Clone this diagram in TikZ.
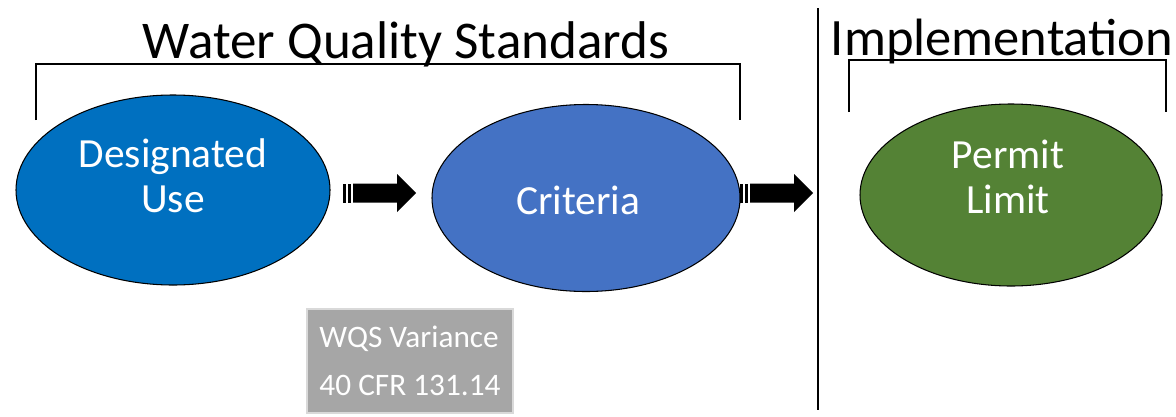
\documentclass[tikz,border=0pt]{standalone}
\usepackage{fontspec}
\setmainfont{Carlito}
\usetikzlibrary{shapes.geometric,positioning,calc}

\definecolor{useblue}{HTML}{0070C0}
\definecolor{critblue}{HTML}{4472C4}
\definecolor{permitgreen}{HTML}{548235}
\definecolor{boxgray}{HTML}{A6A6A6}
\definecolor{boxedge}{HTML}{D9D9D9}

\newdimen\pxu \pxu=0.02cm

\tikzset{
  oval/.style={ellipse, draw=black, line width=0.6pt, inner sep=0pt},
  ovaltext/.style={text=white, align=center, font=\fontsize{23.6}{25.5}\selectfont},
  bracket/.style={line width=1.1pt},
  stripearrow/.pic={
    \fill (0,-9.5) rectangle (3,9.5);
    \fill (5,-9.5) rectangle (8,9.5);
    \fill (10,-9.5) -- (54,-9.5) -- (54,-19) -- (73,0) -- (54,19) -- (54,9.5) -- (10,9.5) -- cycle;
  }
}

\begin{document}
\begin{tikzpicture}[x=0.02cm,y=-0.02cm]
    \useasboundingbox (0,0) rectangle (1176,416);

    % headings
    \node[anchor=base, font=\fontsize{30.2}{32}\selectfont] (wqs) at (406,58) {Water Quality Standards};
    \node[anchor=base, font=\fontsize{29.9}{32}\selectfont] (impl) at (1002,55) {Implementation};

    % brackets
    \draw[bracket] (36,120) -- (36,64) -- (740,64) -- (740,120);
    \draw[bracket] (849,112) -- (849,60) -- (1166,60) -- (1166,112);

    % divider
    \draw[line width=1.4pt] (818,8) -- (818,410);

    % ovals
    \node[oval, fill=useblue, minimum width=314\pxu, minimum height=190\pxu] (use) at (173,190) {};
    \node[ovaltext] at ($(use.center)+(0,-14)$) {Designated\\Use};
    \node[oval, fill=critblue, minimum width=308\pxu, minimum height=187\pxu] (crit) at (586,198) {};
    \node[ovaltext] at ($(crit.center)+(-8,2)$) {Criteria};
    \node[oval, fill=permitgreen, minimum width=302\pxu, minimum height=182\pxu] (permit) at (1011,195) {};
    \node[ovaltext] at ($(permit.center)+(-3,-18)$) {Permit\\Limit};

    % block arrows
    \pic at (343,193) {stripearrow};
    \pic at (740,193) {stripearrow};

    % variance box
    \node[draw=boxedge, line width=1.5pt, fill=boxgray, text=white, align=left,
          minimum width=206\pxu, minimum height=104\pxu, inner sep=0pt,
          font=\fontsize{17.8}{27}\selectfont] (var) at (410,361) {WQS Variance\\40 CFR 131.14};
\end{tikzpicture}
\end{document}
